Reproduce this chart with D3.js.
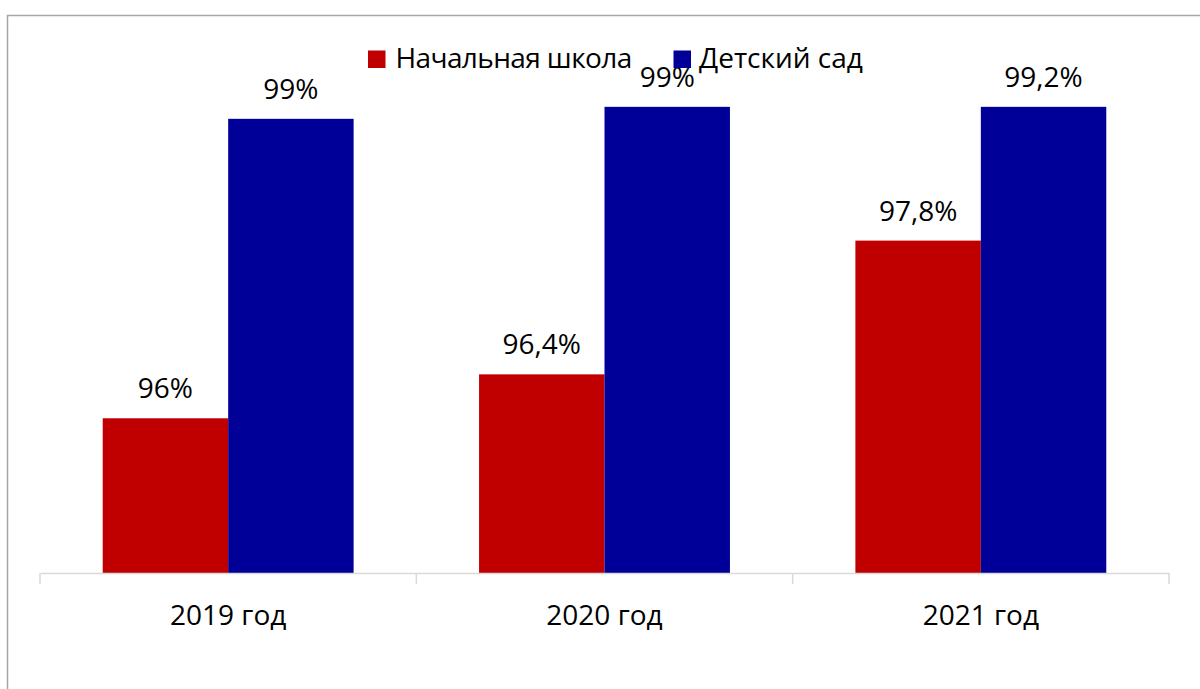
<!DOCTYPE html>
<html>
<head>
<meta charset="utf-8">
<script src="https://cdn.jsdelivr.net/npm/d3@7"></script>
<style>
  html, body { margin: 0; padding: 0; background: #fff; }
  svg { display: block; }
  text { font-family: "Open Sans", sans-serif; fill: #000; }
</style>
</head>
<body>
<div id="chart"></div>
<script>
const categories = ["2019 год", "2020 год", "2021 год"];
const seriesNames = ["Начальная школа", "Детский сад"];
const schoolValues = [96.0, 96.44, 97.78];
const kindergartenValues = [99.0, 99.12, 99.12];
const schoolLabels = ["96%", "96,4%", "97,8%"];
const kindergartenLabels = ["99%", "99%", "99,2%"];
const colors = ["#C00000", "#000099"];
const yDomain = [94.45, 100];

const W = 1200, H = 689;
const svg = d3.select("#chart").append("svg").attr("width", W).attr("height", H);

// outer frame
svg.append("rect").attr("x", 7.5).attr("y", 15.5).attr("width", 1300).attr("height", 800)
  .attr("fill", "none").attr("stroke", "#a6a6a6").attr("stroke-width", 1.5);

const plot = { left: 40, right: 1169, top: 19, bottom: 573 };

const x0 = d3.scaleBand().domain(categories).range([plot.left, plot.right]).paddingInner(0).paddingOuter(0);
const groupW = x0.bandwidth() / 1.5;
const x1 = d3.scaleBand().domain(seriesNames).range([0, groupW]).padding(0);
const y = d3.scaleLinear().domain(yDomain).range([plot.bottom, plot.top]);

const series = [
  { name: seriesNames[0], values: schoolValues, labels: schoolLabels, color: colors[0] },
  { name: seriesNames[1], values: kindergartenValues, labels: kindergartenLabels, color: colors[1] }
];

const g = svg.append("g");
series.forEach(s => {
  categories.forEach((c, i) => {
    const bx = x0(c) + (x0.bandwidth() - groupW) / 2 + x1(s.name);
    g.append("rect")
      .attr("x", bx).attr("y", y(s.values[i]))
      .attr("width", x1.bandwidth()).attr("height", y(yDomain[0]) - y(s.values[i]))
      .attr("fill", s.color);
    g.append("text")
      .attr("x", bx + x1.bandwidth() / 2).attr("y", y(s.values[i]) - 20)
      .attr("text-anchor", "middle").attr("font-size", 28)
      .text(s.labels[i]);
  });
});

// x axis
const axis = d3.axisBottom(x0).tickSize(0).tickPadding(0).tickFormat("");
const ax = svg.append("g").attr("transform", `translate(0,${plot.bottom})`).call(axis);
ax.select(".domain").attr("stroke", "#d9d9d9").attr("stroke-width", 1.5);
// tick marks at category boundaries
const bounds = categories.map(c => x0(c)).concat([plot.right]);
ax.selectAll(".bnd").data(bounds).enter().append("line")
  .attr("x1", d => d).attr("x2", d => d).attr("y1", 0).attr("y2", 11)
  .attr("stroke", "#d9d9d9").attr("stroke-width", 1.5);
ax.selectAll(".cat").data(categories).enter().append("text")
  .attr("x", d => x0(d) + x0.bandwidth() / 2).attr("y", 625 - plot.bottom)
  .attr("text-anchor", "middle").attr("font-size", 28)
  .style("fill", "#000").style("font-family", "'Open Sans', sans-serif")
  .text(d => d);

// legend
const legendItems = [
  { name: seriesNames[0], color: colors[0], sx: 368, tx: 395.5, ls: -0.6 },
  { name: seriesNames[1], color: colors[1], sx: 673.5, tx: 699, ls: 0 }
];
const lg = svg.append("g");
legendItems.forEach(l => {
  lg.append("rect").attr("x", l.sx).attr("y", 50.5).attr("width", 17.5).attr("height", 17.5).attr("fill", l.color);
  lg.append("text").attr("x", l.tx).attr("y", 68).attr("font-size", 28)
    .style("letter-spacing", l.ls + "px").text(l.name);
});
</script>
</body>
</html>
